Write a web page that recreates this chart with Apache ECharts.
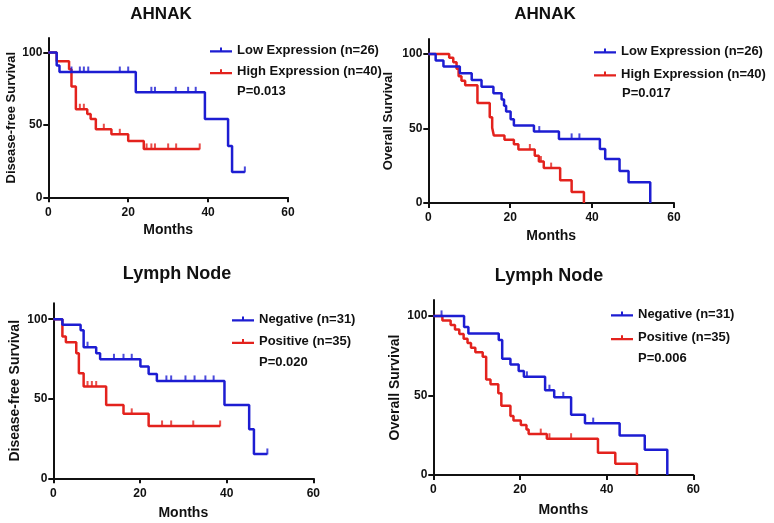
<!DOCTYPE html>
<html>
<head>
<meta charset="utf-8">
<script src="https://cdn.jsdelivr.net/npm/echarts@6/dist/echarts.min.js"></script>
<style>
html,body{margin:0;padding:0;background:#fff;}
#c{width:774px;height:523px;}
</style>
</head>
<body>
<div id="c"></div>
<script>
// ---------- data ----------
const xTicks = [0, 20, 40, 60];
const yTicks = [0, 50, 100];

// Panel A: AHNAK, disease-free survival
const dfsLowT = [0, 2.1, 2.8, 21.9, 39.2, 45.0, 46.0, 49.2];
const dfsLowS = [100, 91, 86.5, 72.5, 54, 35.5, 17.5, 17.5];
const dfsLowCensor = [5.8, 7.9, 8.9, 10, 17.9, 20, 25.8, 26.7, 31.9, 35, 36.9, 49.2];
const dfsHighT = [0, 2.1, 5.2, 5.8, 6.9, 9.75, 10.6, 11.9, 15.8, 20, 23.9, 37.9];
const dfsHighS = [100, 94, 88.5, 76.5, 60.8, 57.6, 54.1, 47, 43.5, 38.9, 33.4, 33.4];
const dfsHighCensor = [7.9, 8.9, 13.9, 17.9, 24.6, 25.8, 26.7, 30, 32, 37.9];

// Panel B: AHNAK, overall survival
const osLowT = [0, 1.8, 3.7, 7.7, 10.6, 13, 15.9, 17.9, 18.5, 19, 20.1, 20.9, 25.8, 31.9, 41.9, 43.2, 46.7, 48.9, 54.2];
const osLowS = [100, 95.5, 91.5, 87, 82.5, 78, 73.6, 69.5, 65.3, 61.3, 56.2, 51.9, 47.9, 43, 36.2, 29.5, 21.5, 13.9, 0];
const osLowCensor = [27.1, 35, 36.9];
const osHighT = [0, 5.1, 6.1, 6.9, 7.4, 8.1, 9, 12, 15, 15.6, 16, 18.6, 20.9, 22, 26, 27, 28.2, 32.2, 35, 38];
const osHighS = [100, 97.5, 94.4, 90, 85, 82, 79, 67, 57.5, 50.5, 45.2, 42.5, 39.4, 35.9, 31.7, 27.8, 23.4, 15.2, 7.4, 0];
const osHighCensor = [24.8, 27.5, 30];

// Panel C: Lymph node, disease-free survival
const dfsNegT = [0, 2.1, 6.3, 7, 9.9, 10.8, 20.1, 22, 23.9, 39.5, 45.2, 46.3, 49.4];
const dfsNegS = [100, 96.5, 93, 82.4, 78.6, 74.8, 70.2, 65.6, 61.2, 46.1, 30.8, 15.3, 15.3];
const dfsNegCensor = [7.9, 14, 16.2, 18.1, 26.1, 27.2, 30.5, 32.6, 35.1, 37, 49.4];
const dfsPosT = [0, 2.1, 2.9, 5.3, 5.9, 7, 12.2, 16.2, 22, 38.5];
const dfsPosS = [100, 89.1, 85.5, 78.6, 66, 57.7, 46.1, 40.5, 32.9, 32.9];
const dfsPosCensor = [7.9, 8.9, 9.9, 18.1, 25.1, 27.2, 32.3, 38.5];

// Panel D: Lymph node, overall survival
const osNegT = [0, 7.1, 8.1, 15.1, 15.9, 17.8, 19.7, 20.9, 25.8, 27.9, 31.8, 35, 43, 48.8, 54];
const osNegS = [100, 93.1, 89, 84.8, 73, 69.5, 65.3, 61.7, 53.3, 48.8, 37.9, 32.6, 24.8, 15.8, 0];
const osNegCensor = [1.9, 21.6, 26.8, 30, 36.9];
const osPosT = [0, 2.1, 4, 5, 6, 7, 7.9, 8.7, 9.7, 11.4, 12.2, 13.2, 15, 15.7, 17.8, 18.5, 20.2, 21.5, 22, 26.2, 38, 42, 47];
const osPosS = [100, 97.1, 94.3, 91.4, 88.6, 85.7, 82.9, 80, 77.1, 74.3, 60, 57.1, 51.4, 43.6, 37.1, 34.3, 31.4, 28.6, 25.7, 22.8, 14, 7, 0];
const osPosCensor = [24.8, 26.8, 31.8];

const titles = ['AHNAK', 'AHNAK', 'Lymph Node', 'Lymph Node'];
const yNames = ['Disease-free Survival', 'Overall Survival', 'Disease-free Survival', 'Overall Survival'];
const xName = 'Months';
const groupNames = [
  ['Low Expression (n=26)', 'High Expression (n=40)'],
  ['Low Expression (n=26)', 'High Expression (n=40)'],
  ['Negative (n=31)', 'Positive (n=35)'],
  ['Negative (n=31)', 'Positive (n=35)']
];
const pValues = ['P=0.013', 'P=0.017', 'P=0.020', 'P=0.006'];

// ---------- layout ----------
const BLUE = '#1d1dd2';
const RED = '#e3221d';
const FONT = '"Liberation Sans", Arial, Helvetica, sans-serif';
const grids = [
  {left: 48.3, top: 38, width: 239.7, height: 159.3},
  {left: 428.3, top: 39, width: 245.7, height: 164},
  {left: 53.3, top: 303.3, width: 260, height: 175},
  {left: 433.3, top: 300, width: 260, height: 175}
];
const titlePos = [[161, 6], [545, 6], [177, 265], [549, 267]];
const yNameSize = [13, 13, 14, 14];
const yNameGap = [30, 33, 31, 31];
const legendPos = [[210, 43], [594, 44], [232, 312], [611, 307]];
const legendGap = [7.7, 9, 8.5, 9.7];
const pPos = [[237, 92], [622, 94], [259, 363], [638, 359]];

const panels = [
  [[dfsLowT, dfsLowS, dfsLowCensor], [dfsHighT, dfsHighS, dfsHighCensor]],
  [[osLowT, osLowS, osLowCensor], [osHighT, osHighS, osHighCensor]],
  [[dfsNegT, dfsNegS, dfsNegCensor], [dfsPosT, dfsPosS, dfsPosCensor]],
  [[osNegT, osNegS, osNegCensor], [osPosT, osPosS, osPosCensor]]
];
const colors = [BLUE, RED];

function stepAt(T, S, t) {
  let v = S[0];
  for (let i = 0; i < T.length; i++) { if (T[i] <= t) v = S[i]; }
  return v;
}

const axisLine = {lineStyle: {color: '#111', width: 2}};
const labelStyle = {color: '#111', fontWeight: 'bold', fontSize: 12, fontFamily: FONT};

const option = {
  backgroundColor: '#fff',
  animation: false,
  grid: grids.map(g => Object.assign({containLabel: false}, g)),
  title: titles.map((t, i) => ({
    text: t, left: titlePos[i][0], top: titlePos[i][1], textAlign: 'center', padding: 0,
    textStyle: {fontSize: i < 2 ? 17 : 18, fontWeight: 'bold', color: '#111', fontFamily: FONT}
  })),
  xAxis: grids.map((g, i) => ({
    type: 'value', gridIndex: i, min: 0, max: 60, interval: 20,
    name: xName, nameLocation: 'middle', nameGap: i < 2 ? 26 : 28,
    nameTextStyle: {fontSize: 14, fontWeight: 'bold', color: '#111', fontFamily: FONT},
    axisLine: axisLine,
    axisTick: {show: true, length: 5, lineStyle: {color: '#111', width: 2}, customValues: xTicks},
    axisLabel: Object.assign({margin: 9, customValues: xTicks}, labelStyle),
    splitLine: {show: false}
  })),
  yAxis: grids.map((g, i) => ({
    type: 'value', gridIndex: i, min: 0, max: 110,
    name: yNames[i], nameLocation: 'middle', nameGap: yNameGap[i],
    nameTextStyle: {fontSize: yNameSize[i], fontWeight: 'bold', color: '#111', fontFamily: FONT},
    axisLine: {show: true, lineStyle: {color: '#111', width: 2}},
    axisTick: {show: true, length: 5, lineStyle: {color: '#111', width: 2}, customValues: yTicks},
    axisLabel: Object.assign({margin: 6, customValues: yTicks}, labelStyle),
    splitLine: {show: false}
  })),
  legend: groupNames.map((names, i) => ({
    data: names, orient: 'vertical', left: legendPos[i][0], top: legendPos[i][1],
    padding: 0, itemGap: legendGap[i], itemWidth: 22, itemHeight: 5,
    icon: 'path://M0,3 L22,3 L22,5.4 L0,5.4 Z M10,0 L12,0 L12,4 L10,4 Z',
    symbolKeepAspect: false, selectedMode: false,
    textStyle: {fontSize: 13, fontWeight: 'bold', color: '#111', fontFamily: FONT, lineHeight: 14}
  })),
  graphic: pValues.map((p, i) => ({
    type: 'text', left: pPos[i][0], top: pPos[i][1] - 7,
    style: {text: p, fontSize: 13, fontWeight: 'bold', fill: '#111', fontFamily: FONT}
  })),
  series: []
};

panels.forEach((curves, i) => {
  curves.forEach((c, k) => {
    const [T, S, C] = c;
    option.series.push({
      type: 'line', name: groupNames[i][k], xAxisIndex: i, yAxisIndex: i,
      step: 'end', showSymbol: false, color: colors[k],
      lineStyle: {width: 2.5, color: colors[k]},
      data: T.map((t, j) => [t, S[j]]), z: 3 - k
    });
    option.series.push({
      type: 'scatter', xAxisIndex: i, yAxisIndex: i,
      symbol: 'rect', symbolSize: [2, 6], symbolOffset: [0, -2.5],
      itemStyle: {color: colors[k]},
      data: C.map(t => [t, stepAt(T, S, t)]), z: 4
    });
  });
});

const chart = echarts.init(document.getElementById('c'), null, {renderer: 'canvas'});
chart.setOption(option);
</script>
</body>
</html>
